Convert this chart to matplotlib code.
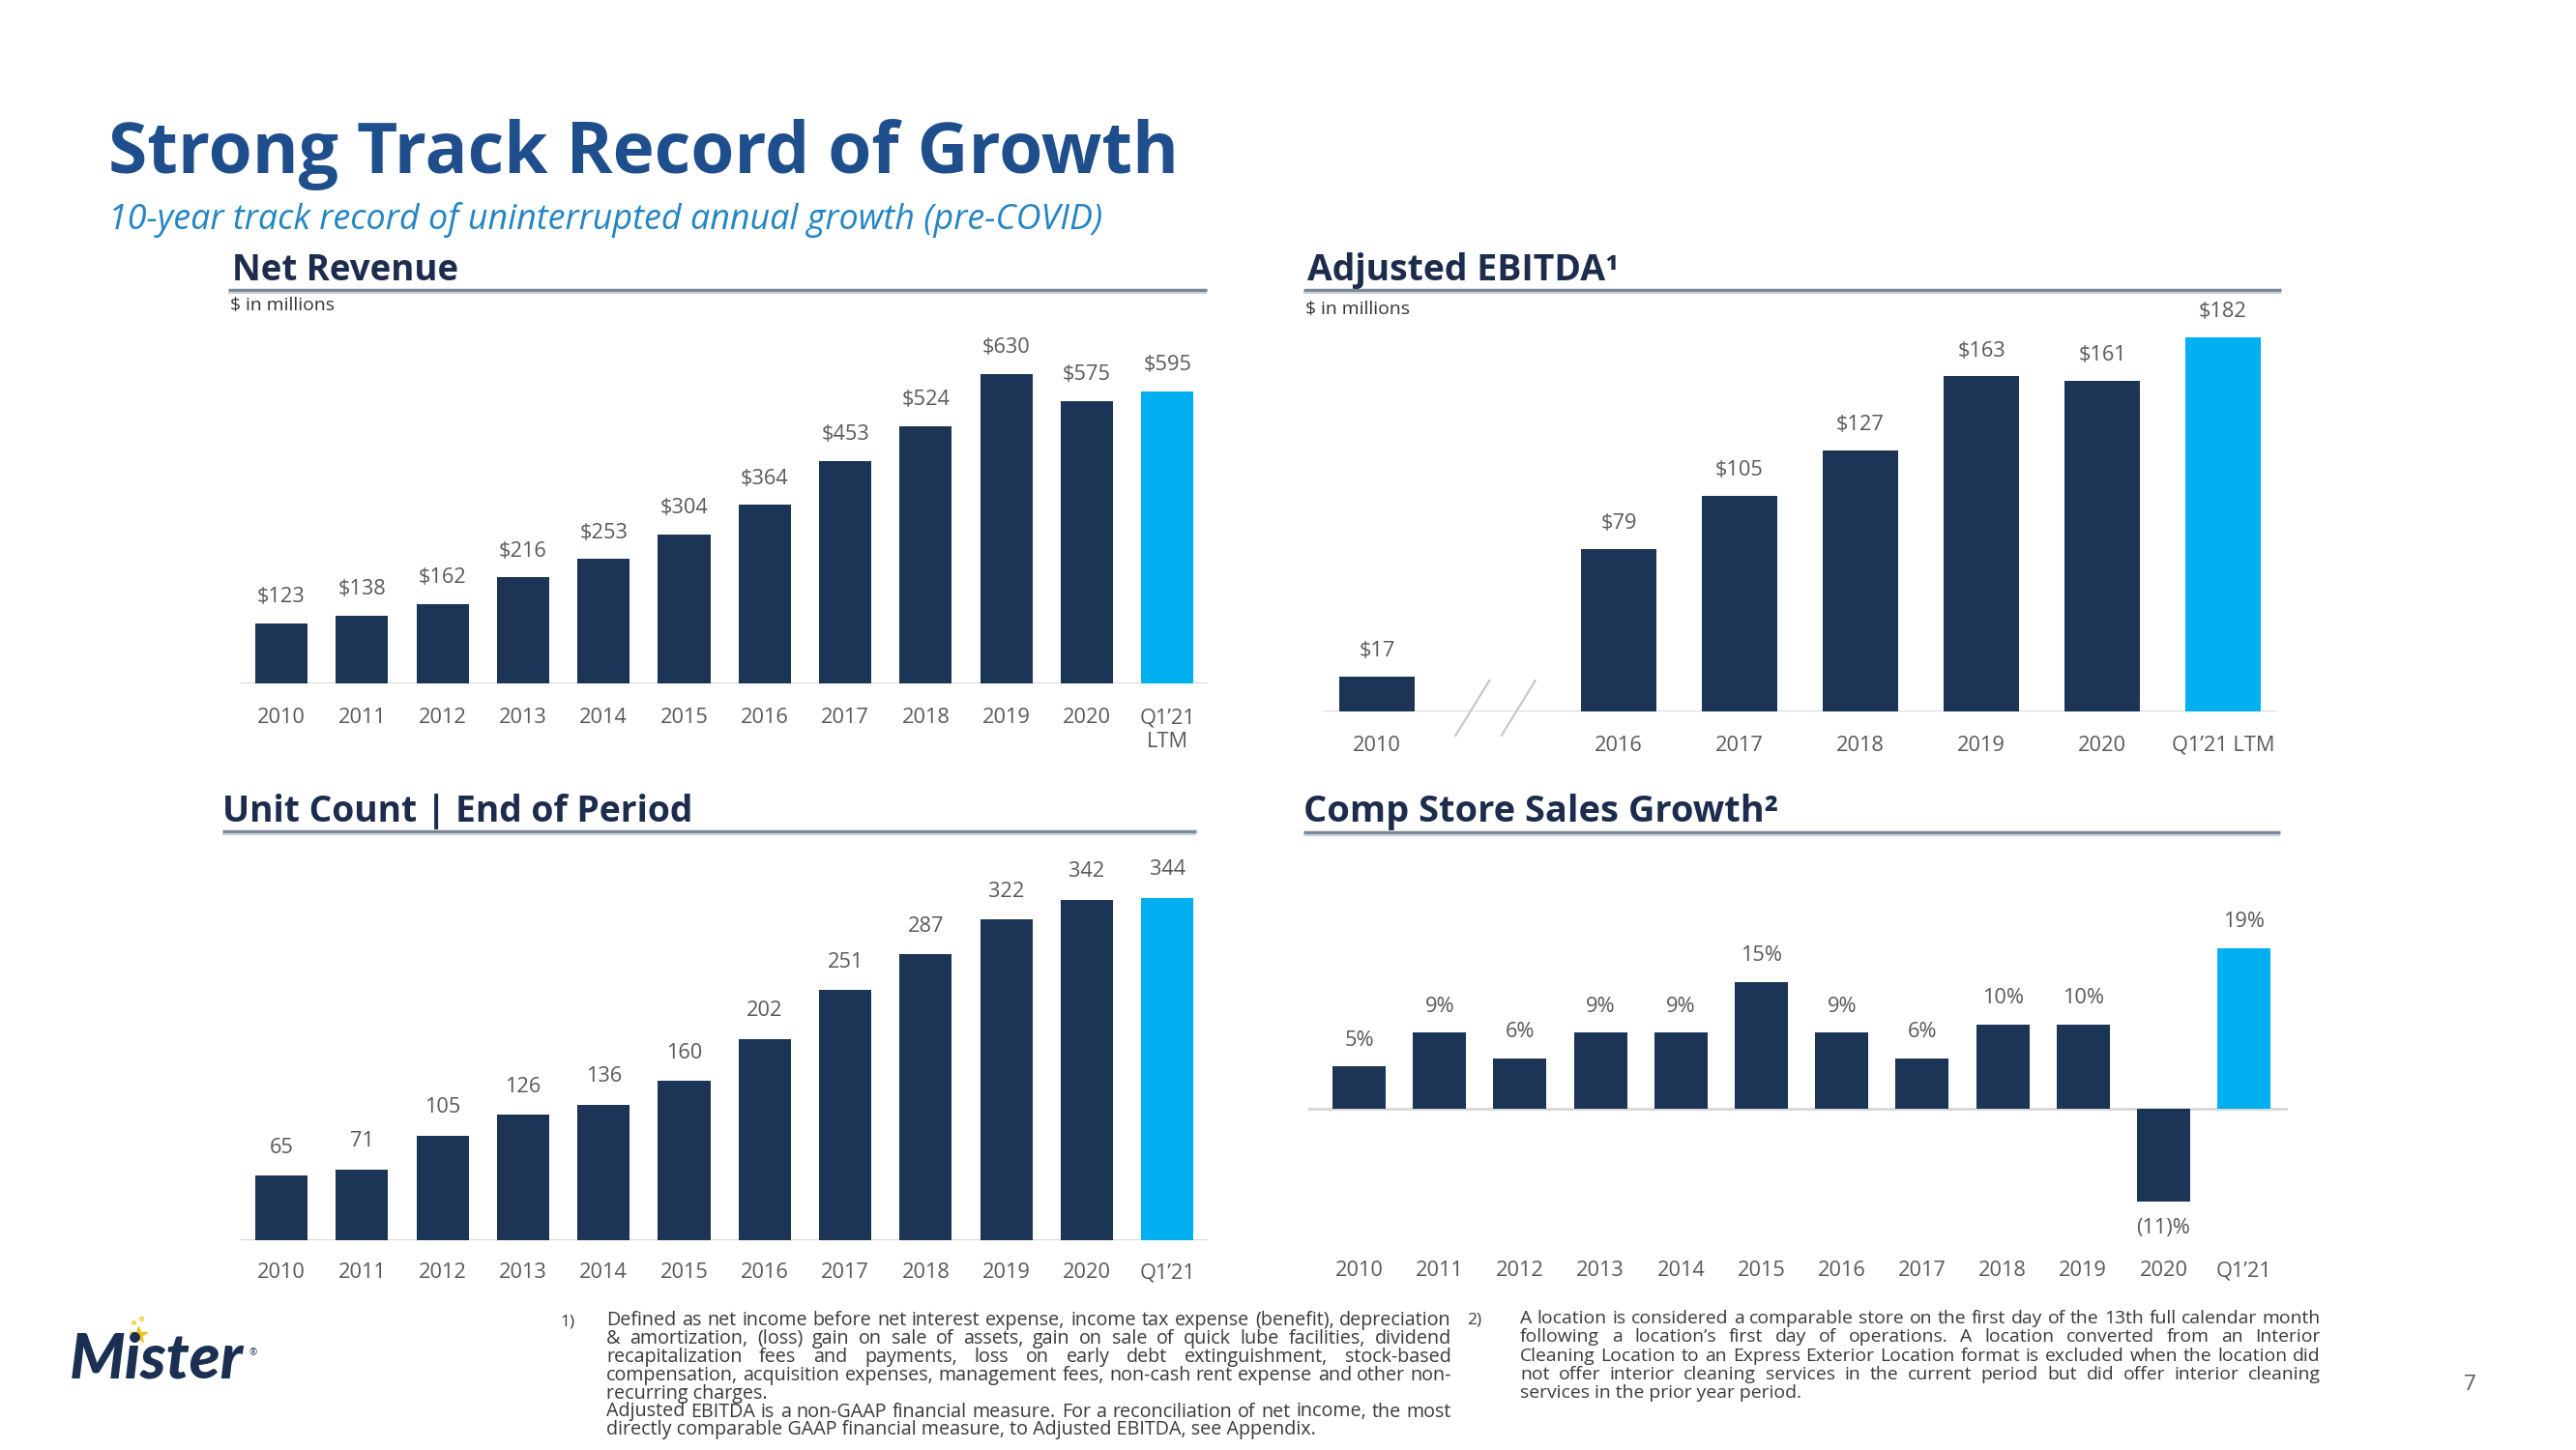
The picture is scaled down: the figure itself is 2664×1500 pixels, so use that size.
import matplotlib
matplotlib.use("Agg")
import matplotlib.pyplot as plt
from matplotlib.lines import Line2D

# ---------------- data ----------------
rev_labels = ["2010", "2011", "2012", "2013", "2014", "2015", "2016", "2017", "2018", "2019", "2020", "Q1\u201921\nLTM"]
rev_values = [123, 138, 162, 216, 253, 304, 364, 453, 524, 630, 575, 595]

unit_labels = ["2010", "2011", "2012", "2013", "2014", "2015", "2016", "2017", "2018", "2019", "2020", "Q1\u201921"]
unit_values = [65, 71, 105, 126, 136, 160, 202, 251, 287, 322, 342, 344]

ebitda_labels = ["2010", "2016", "2017", "2018", "2019", "2020", "Q1\u201921 LTM"]
ebitda_values = [17, 79, 105, 127, 163, 161, 182]

comp_labels = ["2010", "2011", "2012", "2013", "2014", "2015", "2016", "2017", "2018", "2019", "2020", "Q1\u201921"]
comp_values = [5, 9, 6, 9, 9, 15, 9, 6, 10, 10, -11, 19]

title = "Strong Track Record of Growth"
subtitle = "10-year track record of uninterrupted annual growth (pre-COVID)"

note1_lines = [
    "Defined as net income before net interest expense, income tax expense (benefit), depreciation",
    "& amortization, (loss) gain on sale of assets, gain on sale of quick lube facilities, dividend",
    "recapitalization fees and payments, loss on early debt extinguishment, stock-based",
    "compensation, acquisition expenses, management fees, non-cash rent expense and other non-",
    "recurring charges.",
    "Adjusted EBITDA is a non-GAAP financial measure. For a reconciliation of net income, the most",
    "directly comparable GAAP financial measure, to Adjusted EBITDA, see Appendix.",
]
note1_last = [False, False, False, False, True, False, True]
note2_lines = [
    "A location is considered a comparable store on the first day of the 13th full calendar month",
    "following a location\u2019s first day of operations. A location converted from an Interior",
    "Cleaning Location to an Express Exterior Location format is excluded when the location did",
    "not offer interior cleaning services in the current period but did offer interior cleaning",
    "services in the prior year period.",
]
note2_last = [False, False, False, False, True]

# ---------------- styling ----------------
W, H, DPI = 2664, 1500, 100
NAVY = "#1C3557"
LIGHT = "#00B0F0"
GRAY_TXT = "#595959"
HEAD = "#1D2C4C"
LINE_C = "#7A8796"
BASE_C = "#D9D9D9"
FONT = ["Open Sans", "DejaVu Sans"]

plt.rcParams["font.family"] = FONT
fig = plt.figure(figsize=(W / DPI, H / DPI), dpi=DPI)
fig.patch.set_facecolor("white")
renderer = fig.canvas.get_renderer()


def fy(py):
    return 1 - py / H


def measure(s, size, **kw):
    t = fig.text(0, 0, s, fontsize=size, **kw)
    w = t.get_window_extent(renderer).width
    t.remove()
    return w


def fit_text(x, y, s, width, size0=20, **kw):
    t = fig.text(x / W, fy(y), s, fontsize=size0, **kw)
    bb = t.get_window_extent(renderer)
    t.set_fontsize(size0 * width / bb.width)
    return t


def hline(x0, x1, y, color=LINE_C, lw=2.5):
    fig.add_artist(Line2D([x0 / W, x1 / W], [fy(y), fy(y)], color=color, lw=lw,
                          transform=fig.transFigure, solid_capstyle="butt"))


def make_axes(x0, sp, xl, xr, base, ppu, ymin, ymax):
    left = x0 + xl * sp
    width = (xr - xl) * sp
    top = base - ymax * ppu
    bottom = base - ymin * ppu
    ax = fig.add_axes([left / W, 1 - bottom / H, width / W, (bottom - top) / H])
    ax.set_xlim(xl, xr)
    ax.set_ylim(ymin, ymax)
    ax.patch.set_alpha(0)
    for s in ax.spines.values():
        s.set_visible(False)
    ax.set_yticks([])
    ax.axhline(0, color=BASE_C, lw=2.2, zorder=1)
    return ax, bottom


# label size fitted so that "2010" is ~50 px wide, as in the reference
LBL = 10 * 50 / measure("2010", 10)


def set_ticks(ax, pos, labels, axes_bottom, label_center, linespacing=1.25):
    ax.set_xticks(pos)
    ax.set_xticklabels(labels, linespacing=linespacing)
    pad_px = label_center - axes_bottom - 9
    ax.tick_params(axis="x", length=0, pad=pad_px * 0.72, labelsize=LBL, labelcolor=GRAY_TXT)


def bars(ax, pos, vals, width, fmt, off=27):
    colors = [NAVY] * (len(vals) - 1) + [LIGHT]
    ax.bar(pos, vals, width=width, color=colors, zorder=2)
    for p, v in zip(pos, vals):
        o = off if v >= 0 else -off
        ax.annotate(fmt(v), (p, v), xytext=(0, o), textcoords="offset pixels",
                    ha="center", va="center", fontsize=LBL, color=GRAY_TXT)


# ---------------- title ----------------
fit_text(112, 179, title, 1107, 50, fontweight="bold", color="#1F4E8D", va="baseline")
fit_text(112, 237, subtitle, 1028, 20, style="italic", color="#2385C4", va="baseline")

# ---------------- Net Revenue ----------------
fit_text(240, 290, "Net Revenue", 234, 28, fontweight="bold", color=HEAD, va="baseline")
hline(236, 1248, 300)
hline(236, 1248, 303, color="#C9D0D8", lw=1.5)
fit_text(238, 316, "$ in millions", 108, 12, color="#333333", va="center")

pos = list(range(len(rev_values)))
ax, bot = make_axes(291, 83.3, -0.5, 11.5, 707, 0.508, 0, 680)
bars(ax, pos, rev_values, 0.65, lambda v: f"${v}")
set_ticks(ax, pos, rev_labels, bot, 741)

# ---------------- Unit Count ----------------
fit_text(230, 850, "Unit Count | End of Period", 487, 28, fontweight="bold", color=HEAD, va="baseline")
hline(230, 1237, 860)
hline(230, 1237, 863, color="#C9D0D8", lw=1.5)

pos = list(range(len(unit_values)))
ax, bot = make_axes(291, 83.3, -0.5, 11.5, 1283, 1.03, 0, 380)
bars(ax, pos, unit_values, 0.65, lambda v: f"{v}", off=29)
set_ticks(ax, pos, unit_labels, bot, 1315)

# ---------------- Adjusted EBITDA ----------------
fit_text(1352, 290, "Adjusted EBITDA\u00b9", 323, 28, fontweight="bold", color=HEAD, va="baseline")
hline(1348, 2359, 300)
hline(1348, 2359, 303, color="#C9D0D8", lw=1.5)
fit_text(1350, 320, "$ in millions", 108, 12, color="#333333", va="center")

epos = [0] + [i + 1 for i in range(1, len(ebitda_values))]
ax, bot = make_axes(1424, 125, -0.45, 7.45, 736, 2.127, 0, 200)
bars(ax, epos, ebitda_values, 0.63, lambda v: f"${v}", off=26)
set_ticks(ax, epos, ebitda_labels, bot, 770)
for x0 in (0.65, 1.03):
    ax.plot([x0, x0 + 0.28], [-11.7, 15], color="#C8C8C8", lw=1.6, clip_on=False, zorder=3)

# ---------------- Comp Store Sales Growth ----------------
fit_text(1348, 850, "Comp Store Sales Growth\u00b2", 490, 28, fontweight="bold", color=HEAD, va="baseline")
hline(1348, 2358, 861)
hline(1348, 2358, 864, color="#C9D0D8", lw=1.5)

pos = list(range(len(comp_values)))
ax, bot = make_axes(1405.5, 83.2, -0.63, 11.55, 1147, 8.75, -12, 22)
bars(ax, pos, comp_values, 0.66, lambda v: f"{v}%" if v >= 0 else f"({-v})%")
set_ticks(ax, pos, comp_labels, bot, 1313)


# ---------------- footnotes ----------------
def justified(lines, last, xl, xr, y0, dy, ref_line, ref_width, color, min_gap=3.5):
    width = xr - xl
    size = 12 * ref_width / measure(ref_line, 12)
    for ln, lst in zip(lines, last):
        if not lst:
            words = ln.split(" ")
            need = sum(measure(w, size) for w in words) + min_gap * (len(words) - 1)
            if need > width:
                size *= width / need
    for i, (ln, lst) in enumerate(zip(lines, last)):
        y = y0 + i * dy
        words = ln.split(" ")
        if lst or len(words) == 1:
            fig.text(xl / W, fy(y), ln, fontsize=size, color=color, va="baseline", ha="left")
            continue
        ws = [measure(w, size) for w in words]
        gap = (width - sum(ws)) / (len(words) - 1)
        x = xl
        for w, wd in zip(words, ws):
            fig.text(x / W, fy(y), w, fontsize=size, color=color, va="baseline", ha="left")
            x += wd + gap


NOTE_C = "#3A3A3A"
fig.text(579 / W, fy(1372), "1)", fontsize=12.5, color=NOTE_C, va="baseline")
justified(note1_lines, note1_last, 627, 1501, 1371, 18.9, note1_lines[-1], 731, NOTE_C)
fig.text(1517 / W, fy(1370), "2)", fontsize=12.5, color=NOTE_C, va="baseline")
justified(note2_lines, note2_last, 1572, 2400, 1369, 19.3, note2_lines[-1], 289, NOTE_C)

fig.text(2554 / W, fy(1432), "7", fontsize=16, color=GRAY_TXT, va="center", ha="center")

# ---------------- logo ----------------
fit_text(72, 1426, "Mister", 180, 36, fontweight="black", style="italic", color="#1B2F52",
         va="baseline", family=["Lato", "DejaVu Sans"])
fig.text(258 / W, fy(1400), "\u00ae", fontsize=7, color="#1B2F52", va="center")
fig.add_artist(Line2D([143 / W], [fy(1381)], marker="*", markersize=13, color="#F2C21B",
                      transform=fig.transFigure, lw=0))
fig.add_artist(Line2D([138 / W, 146 / W], [fy(1368), fy(1364)], marker="o", markersize=3,
                      color="#F5D66B", transform=fig.transFigure, lw=0))

fig.savefig("out.png", dpi=DPI, facecolor="white")
